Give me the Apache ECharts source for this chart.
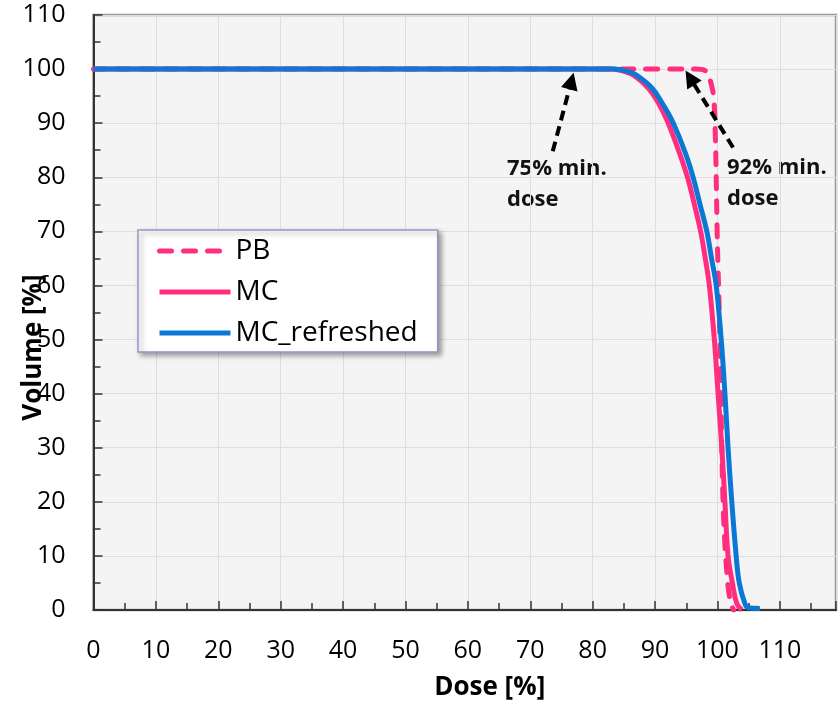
<!DOCTYPE html>
<html>
<head>
<meta charset="utf-8">
<script src="https://cdn.jsdelivr.net/npm/echarts@6/dist/echarts.min.js"></script>
<style>
  html, body { margin: 0; padding: 0; background: #fff; }
  #container { width: 840px; height: 705px; }
</style>
</head>
<body>
<div id="container"></div>
<script>
// dose [%] / volume [%]
var pbDose = [0, 96.5, 98.2, 98.9, 99.4, 99.65, 99.8, 99.95, 100.1, 100.25, 100.4, 100.55, 100.7, 100.9, 101.2, 101.5, 101.8, 102.2, 102.6];
var pbVol  = [100, 100, 99.6, 97.7, 94.6, 88, 80, 70, 63, 57, 50, 40, 30, 20, 12, 7, 3.5, 1, 0];

var mcDose = [0, 83, 85, 86.5, 88.9, 90.6, 92.0, 94.0, 95.2, 96.3, 97.3, 98.05, 98.7, 99.5, 100.1, 100.7, 101.2, 101.7, 102.4, 103.1, 103.9];
var mcVol  = [100, 100, 99.6, 98.9, 96.5, 93.6, 90.3, 84.2, 80, 75, 70, 65, 60, 50, 40, 30, 20, 10, 5, 1.2, 0];

var mcrDose = [0, 83.5, 85.5, 87.0, 89.5, 91.2, 92.8, 94.95, 96.1, 97.2, 98.3, 99.05, 99.8, 100.6, 101.2, 101.7, 102.3, 103.0, 103.5, 104.4, 105.0, 106.8];
var mcrVol  = [100, 100, 99.6, 98.9, 96.5, 93.6, 90.3, 84.2, 80, 75, 70, 65, 60, 50, 40, 30, 20, 10, 5, 1.2, 0.4, 0.3];

var xTicks = { min: 0, max: 119, interval: 10 };
var yTicks = { min: 0, max: 110, interval: 10 };

function pairs(xs, ys) {
  return xs.map(function (x, i) { return [x, ys[i]]; });
}

var pink = '#ff2e7e';
var blue = '#0a78d4';
var font = '"Open Sans", "Noto Sans", sans-serif';

var dom = document.getElementById('container');
var myChart = echarts.init(dom, null, { renderer: 'canvas', useDirtyRect: false });

var option = {
  animation: false,
  grid: {
    left: 93.5, right: 4, top: 15, bottom: 95,
    outerBoundsMode: 'none',
    containLabel: false,
    show: true,
    backgroundColor: '#f4f4f4',
    borderColor: '#999',
    borderWidth: 2.5
  },
  legend: {
    orient: 'vertical',
    left: 138, top: 230,
    padding: [6, 20, 4, 19],
    itemWidth: 71, itemHeight: 14, itemGap: 11,
    backgroundColor: '#fff',
    borderColor: '#a48dc4', borderWidth: 1.5,
    shadowBlur: 5, shadowColor: 'rgba(0,0,0,0.35)', shadowOffsetX: 3, shadowOffsetY: 3,
    itemStyle: { opacity: 0 },
    lineStyle: { width: 5 },
    textStyle: { fontFamily: font, fontSize: 28, lineHeight: 30, color: '#000' },
    data: ['PB', 'MC', 'MC_refreshed']
  },
  xAxis: {
    type: 'value',
    min: xTicks.min, max: xTicks.max, interval: xTicks.interval,
    name: 'Dose [%]',
    nameLocation: 'middle',
    nameGap: 65,
    nameMoveOverlap: false,
    nameTextStyle: { fontFamily: font, fontSize: 26, fontWeight: 'bold', color: '#000', lineHeight: 26, padding: [0, 0, 0, 50] },
    axisLine: { lineStyle: { color: '#333', width: 2 } },
    axisTick: { inside: true, length: 9, lineStyle: { color: '#333', width: 1.5 } },
    minorTick: { show: true, splitNumber: 2, length: 7, lineStyle: { color: '#333', width: 1.5 } },
    axisLabel: { fontFamily: font, fontSize: 25, lineHeight: 25, color: '#000', margin: 28, showMaxLabel: false },
    splitLine: { show: true, lineStyle: { color: '#dedede', width: 1 } }
  },
  yAxis: {
    type: 'value',
    min: yTicks.min, max: yTicks.max, interval: yTicks.interval,
    name: 'Volume [%]',
    nameLocation: 'middle',
    nameGap: 47,
    nameMoveOverlap: false,
    nameTextStyle: { fontFamily: font, fontSize: 26, fontWeight: 'bold', color: '#000', lineHeight: 26, padding: [0, 70, 0, 0] },
    axisLine: { show: true, lineStyle: { color: '#333', width: 2 } },
    axisTick: { show: true, inside: true, length: 9, lineStyle: { color: '#333', width: 1.5 } },
    minorTick: { show: true, splitNumber: 2, length: 7, lineStyle: { color: '#333', width: 1.5 } },
    axisLabel: { fontFamily: font, fontSize: 25, color: '#000', margin: 28 },
    splitLine: { show: true, lineStyle: { color: '#dedede', width: 1 } }
  },
  series: [
    {
      name: 'PB',
      type: 'line',
      data: pairs(pbDose, pbVol),
      showSymbol: false, symbol: 'none',
      smooth: 0.4,
      color: pink,
      lineStyle: { color: pink, width: 5, type: [12, 12], cap: 'round' },
      markLine: {
        silent: true,
        symbol: ['none', 'triangle'],
        symbolSize: 17,
        label: { show: false },
        lineStyle: { color: '#000', width: 4, type: [10, 6] },
        data: [
          [{ coord: [73.6, 84.8] }, { coord: [76.6, 97.8] }],
          [{ coord: [102.5, 85.5] }, { coord: [95.6, 98.4] }]
        ]
      }
    },
    {
      name: 'MC',
      type: 'line',
      data: pairs(mcDose, mcVol),
      showSymbol: false, symbol: 'none',
      smooth: 0.4,
      color: pink,
      lineStyle: { color: pink, width: 5 }
    },
    {
      name: 'MC_refreshed',
      type: 'line',
      data: pairs(mcrDose, mcrVol),
      showSymbol: false, symbol: 'none',
      smooth: 0.4,
      color: blue,
      lineStyle: { color: blue, width: 5 }
    }
  ],
  graphic: [
    { type: 'text', left: 507, top: 153, style: { text: '75% min.\ndose', font: 'bold 22px ' + font, lineHeight: 31, fill: '#111' } },
    { type: 'text', left: 727, top: 152, style: { text: '92% min.\ndose', font: 'bold 22px ' + font, lineHeight: 31, fill: '#111' } }
  ]
};

myChart.setOption(option);

window.addEventListener('resize', function () {
  myChart.resize();
});
</script>
</body>
</html>
